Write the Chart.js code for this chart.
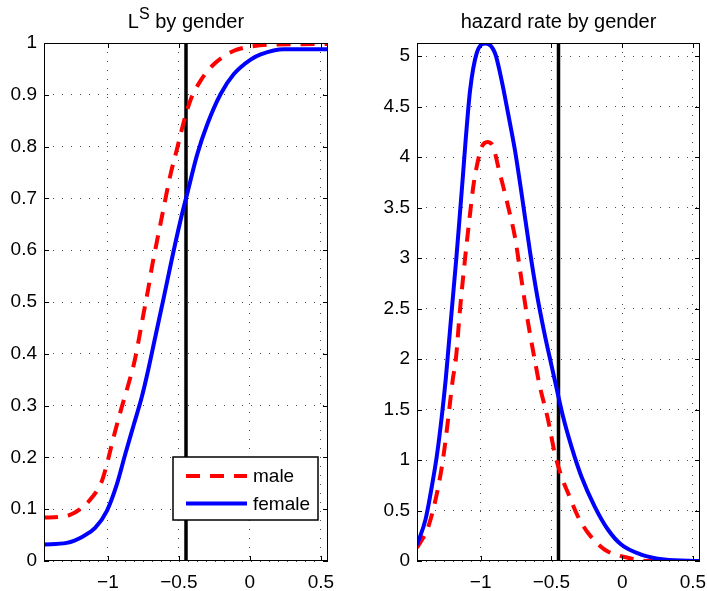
<!DOCTYPE html>
<html>
<head>
<meta charset="utf-8">
<script src="https://cdn.jsdelivr.net/npm/chart.js@4.4.0/dist/chart.umd.min.js"></script>
<style>
  body { margin: 0; background: #fff; }
  #wrap { position: relative; width: 707px; height: 591px; }
  canvas { position: absolute; top: 0; }
  #lsChart { left: 0; }
  #hzChart { left: 360px; }
</style>
</head>
<body>
<div id="wrap">
  <canvas id="lsChart" width="360" height="591"></canvas>
  <canvas id="hzChart" width="347" height="591"></canvas>
</div>
<script>
// left panel: L^S by gender
const lsMaleX = [-1.45, -1.35, -1.267, -1.196, -1.114, -1.043, -0.996, -0.961, -0.914, -0.862, -0.812, -0.778, -0.748, -0.717, -0.689, -0.654, -0.618, -0.56, -0.512, -0.47, -0.418, -0.348, -0.254, -0.113, 0.005, 0.15, 0.55];
const lsMaleY = [0.084, 0.085, 0.089, 0.100, 0.122, 0.154, 0.199, 0.238, 0.286, 0.335, 0.386, 0.434, 0.479, 0.524, 0.569, 0.618, 0.667, 0.745, 0.797, 0.843, 0.89, 0.927, 0.959, 0.985, 0.993, 0.997, 0.998];
const lsFemaleX = [-1.45, -1.29, -1.172, -1.09, -1.007, -0.937, -0.878, -0.819, -0.76, -0.725, -0.666, -0.607, -0.548, -0.49, -0.437, -0.371, -0.30, -0.207, -0.113, 0.005, 0.076, 0.24, 0.55];
const lsFemaleY = [0.032, 0.035, 0.048, 0.064, 0.097, 0.148, 0.206, 0.262, 0.318, 0.358, 0.433, 0.508, 0.585, 0.656, 0.714, 0.785, 0.843, 0.901, 0.94, 0.968, 0.978, 0.988, 0.988];

// right panel: hazard rate by gender
const hzMaleX = [-1.45, -1.369, -1.299, -1.263, -1.228, -1.197, -1.176, -1.146, -1.11, -1.075, -1.052, -1.028, -0.993, -0.951, -0.911, -0.876, -0.841, -0.794, -0.758, -0.711, -0.665, -0.623, -0.585, -0.524, -0.477, -0.43, -0.383, -0.313, -0.242, -0.125, 0.039, 0.18, 0.55];
const hzMaleY = [0.13, 0.344, 0.74, 1.04, 1.43, 1.80, 1.99, 2.49, 3.0, 3.44, 3.71, 3.905, 4.10, 4.15, 4.10, 3.905, 3.71, 3.44, 3.21, 2.78, 2.36, 2.03, 1.75, 1.40, 1.07, 0.84, 0.675, 0.443, 0.279, 0.114, 0.032, 0.0, 0.0];
const hzFemaleX = [-1.45, -1.39, -1.345, -1.31, -1.275, -1.247, -1.235, -1.204, -1.172, -1.15, -1.128, -1.106, -1.075, -1.028, -0.965, -0.899, -0.852, -0.806, -0.758, -0.711, -0.65, -0.60, -0.55, -0.50, -0.465, -0.418, -0.359, -0.289, -0.195, -0.101, -0.007, 0.134, 0.298, 0.55];
const hzFemaleY = [0.16, 0.41, 0.74, 1.04, 1.43, 1.80, 1.99, 2.49, 3.0, 3.38, 3.77, 4.17, 4.66, 5.03, 5.125, 5.03, 4.76, 4.43, 4.07, 3.64, 3.05, 2.62, 2.26, 1.94, 1.72, 1.43, 1.135, 0.84, 0.542, 0.312, 0.163, 0.064, 0.015, 0.0];

const cutoff = -0.45;  // vertical black line
const xTicks = [-1, -0.5, 0, 0.5];
const lsTicks = [0, 0.1, 0.2, 0.3, 0.4, 0.5, 0.6, 0.7, 0.8, 0.9, 1];
const hzTicks = [0, 0.5, 1, 1.5, 2, 2.5, 3, 3.5, 4, 4.5, 5];

const FONT = '"Liberation Sans", Arial, Helvetica, sans-serif';
Chart.defaults.font.family = FONT;
Chart.defaults.font.size = 19;
Chart.defaults.color = '#000';

function toPoints(xs, ys) {
    return xs.map((x, i) => ({ x: x, y: ys[i] }));
}

// box round the axes plus small inward ticks on all four sides
const framePlugin = {
    id: 'frame',
    afterDraw(chart) {
        const { ctx, chartArea: a, scales } = chart;
        ctx.save();
        ctx.strokeStyle = '#000';
        ctx.lineWidth = 1;
        ctx.beginPath();
        scales.x.ticks.forEach(t => {
            const px = Math.round(scales.x.getPixelForValue(t.value)) + 0.5;
            ctx.moveTo(px, a.bottom); ctx.lineTo(px, a.bottom - 5);
            ctx.moveTo(px, a.top); ctx.lineTo(px, a.top + 5);
        });
        scales.y.ticks.forEach(t => {
            const py = Math.round(scales.y.getPixelForValue(t.value)) + 0.5;
            ctx.moveTo(a.left, py); ctx.lineTo(a.left + 5, py);
            ctx.moveTo(a.right, py); ctx.lineTo(a.right - 5, py);
        });
        ctx.stroke();
        ctx.strokeRect(Math.round(a.left) + 0.5, Math.round(a.top) + 0.5,
                       Math.round(a.width) - 1, Math.round(a.height) - 1);
        ctx.restore();
    }
};

// title with optional superscript parts
const titlePlugin = {
    id: 'panelTitle',
    afterDraw(chart, args, opts) {
        if (!opts.parts) return;
        const { ctx, chartArea: a } = chart;
        ctx.save();
        ctx.fillStyle = '#000';
        ctx.textBaseline = 'alphabetic';
        let total = 0;
        opts.parts.forEach(p => {
            ctx.font = (p.sup ? 16 : 20) + 'px ' + FONT;
            p.w = ctx.measureText(p.text).width;
            total += p.w;
        });
        let x = (a.left + a.right) / 2 - total / 2;
        opts.parts.forEach(p => {
            ctx.font = (p.sup ? 16 : 20) + 'px ' + FONT;
            ctx.fillText(p.text, x, p.sup ? 18.5 : 27.5);
            x += p.w;
        });
        ctx.restore();
    }
};

// legend box inside the axes, lower right
const boxLegendPlugin = {
    id: 'boxLegend',
    afterDraw(chart, args, opts) {
        if (!opts.show) return;
        const { ctx, chartArea: a } = chart;
        const w = 145, h = 63;
        const left = a.right - 10 - w, top = a.bottom - 41 - h;
        ctx.save();
        ctx.fillStyle = '#fff';
        ctx.fillRect(left, top, w, h);
        ctx.strokeStyle = '#000';
        ctx.lineWidth = 1.5;
        ctx.strokeRect(left, top, w, h);
        const order = ['male', 'female'];
        order.forEach((name, i) => {
            const ds = chart.data.datasets.find(d => d.label === name);
            const y = top + 19 + i * 27.5;
            ctx.beginPath();
            ctx.strokeStyle = ds.borderColor;
            ctx.lineWidth = ds.borderWidth;
            ctx.setLineDash(ds.borderDash || []);
            ctx.moveTo(left + 13, y);
            ctx.lineTo(left + 74, y);
            ctx.stroke();
            ctx.setLineDash([]);
            ctx.fillStyle = '#000';
            ctx.font = '19px ' + FONT;
            ctx.textBaseline = 'middle';
            ctx.fillText(ds.label, left + 80, y + 1);
        });
        ctx.restore();
    }
};

function fmt(v) {
    return String(v).replace('-', '\u2212');
}

function makePanel(id, o) {
    return new Chart(document.getElementById(id), {
        type: 'line',
        data: {
            datasets: [{
                label: 'female',
                data: toPoints(o.femaleX, o.femaleY),
                borderColor: '#0000ff',
                borderWidth: 4,
                order: 0
            }, {
                label: 'male',
                data: toPoints(o.maleX, o.maleY),
                borderColor: '#ff0000',
                borderWidth: 4,
                borderDash: [14, 10],
                order: 1
            }, {
                label: 'cutoff',
                data: [{ x: cutoff, y: o.yMin }, { x: cutoff, y: o.yMax }],
                borderColor: '#000',
                borderWidth: 3.5,
                order: 2
            }]
        },
        options: {
            responsive: false,
            animation: false,
            devicePixelRatio: 1,
            layout: { padding: { left: 0, right: o.padRight, top: 43, bottom: 0 } },
            elements: {
                point: { radius: 0 },
                line: { cubicInterpolationMode: 'monotone', borderCapStyle: 'butt' }
            },
            scales: {
                x: {
                    type: 'linear',
                    min: -1.45,
                    max: 0.55,
                    afterBuildTicks: s => { s.ticks = xTicks.map(v => ({ value: v })); },
                    afterFit: s => { s.height = 30; s.paddingLeft = 0; s.paddingRight = 0; },
                    ticks: { padding: 10, maxRotation: 0, callback: v => fmt(v) },
                    grid: { color: 'rgba(0,0,0,0.7)', lineWidth: 1, drawTicks: false },
                    border: { display: false, dash: [1, 8] }
                },
                y: {
                    type: 'linear',
                    min: o.yMin,
                    max: o.yMax,
                    afterBuildTicks: s => { s.ticks = o.yTicks.map(v => ({ value: v })); },
                    afterFit: s => { s.width = o.yWidth; s.paddingTop = 0; s.paddingBottom = 0; },
                    ticks: { padding: 7, callback: v => fmt(v) },
                    grid: { color: 'rgba(0,0,0,0.7)', lineWidth: 1, drawTicks: false },
                    border: { display: false, dash: [1, 8] }
                }
            },
            plugins: {
                legend: { display: false },
                tooltip: { enabled: false },
                panelTitle: { parts: o.title },
                boxLegend: { show: o.legend }
            }
        },
        plugins: [framePlugin, titlePlugin, boxLegendPlugin]
    });
}

makePanel('lsChart', {
    maleX: lsMaleX, maleY: lsMaleY, femaleX: lsFemaleX, femaleY: lsFemaleY,
    yMin: 0, yMax: 1, yTicks: lsTicks, yWidth: 44, padRight: 32,
    title: [{ text: 'L' }, { text: 'S', sup: true }, { text: ' by gender' }],
    legend: true
});

makePanel('hzChart', {
    maleX: hzMaleX, maleY: hzMaleY, femaleX: hzFemaleX, femaleY: hzFemaleY,
    yMin: 0, yMax: 5.13, yTicks: hzTicks, yWidth: 57, padRight: 7,
    title: [{ text: 'hazard rate by gender' }],
    legend: false
});
</script>
</body>
</html>
